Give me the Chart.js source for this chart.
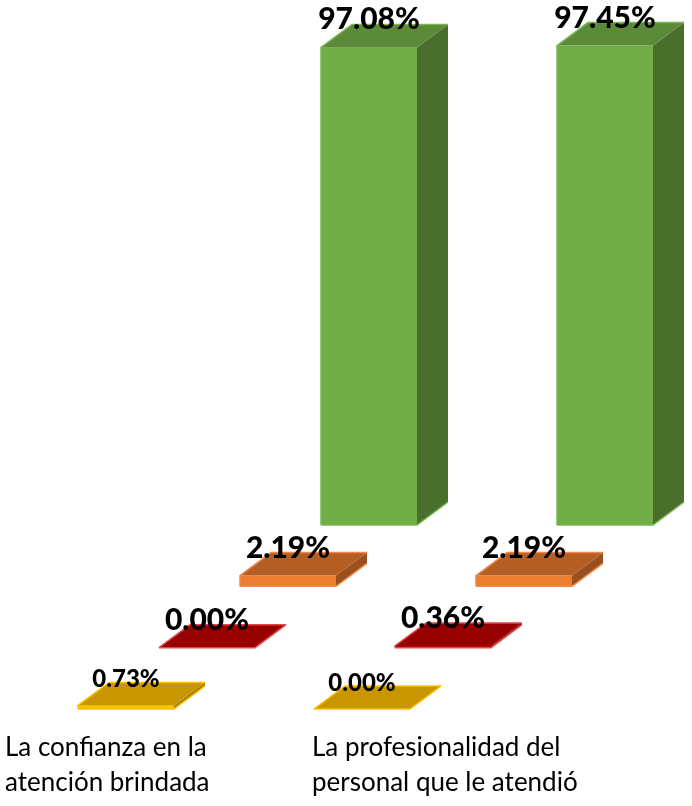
<!DOCTYPE html>
<html><head><meta charset="utf-8">
<script src="https://cdn.jsdelivr.net/npm/chart.js@4.4.1/dist/chart.umd.min.js"></script>
<style>html,body{margin:0;padding:0;background:#fff}#wrap{width:692px;height:806px;position:relative}</style>
</head><body><div id="wrap"><canvas id="c"></canvas></div>
<script>
// ---- data ----
const categories = [["La confianza en la","atención brindada"],["La profesionalidad del","personal que le atendió"]];
const seriesNames = ["Serie 1","Serie 2","Serie 3","Serie 4"];
const serie1 = [0.73, 0.00];   // amarillo (fila delantera)
const serie2 = [0.00, 0.36];   // rojo
const serie3 = [2.19, 2.19];   // naranja
const serie4 = [97.08, 97.45]; // verde (fila trasera)

// ---- styles ----
const DEPTH_X = 81, DEPTH_Y = 61.33, FACE_DX = 31, FACE_DY = 23;
const palettes = [
  {front:'#FFC000', top:'#C89600', side:'#A97F00', edge:'#FFC000', font:24},
  {front:'#C00000', top:'#960000', side:'#7A0000', edge:'#E04848', font:30},
  {front:'#ED7D31', top:'#B45E24', side:'#9A501E', edge:'#F0884A', font:30},
  {front:'#70AD47', top:'#5B8A39', side:'#4A6F2C', edge:'#79B552', font:30}
];
const LABEL_LEFT_SHIFT = [-121, -50];

function poly(ctx, pts){ctx.beginPath();ctx.moveTo(pts[0][0],pts[0][1]);for(let k=1;k<pts.length;k++)ctx.lineTo(pts[k][0],pts[k][1]);ctx.closePath();ctx.fill();}

const box3d = {
  id:'box3d',
  afterDatasetsDraw(chart){
    const ctx = chart.ctx;
    ctx.save();
    const n = chart.data.datasets.length;
    const labels = [];
    for (let d = n-1; d >= 0; d--) {
      const meta = chart.getDatasetMeta(d);
      const ox = d*DEPTH_X, oy = -d*DEPTH_Y;
      const pal = palettes[d];
      meta.data.forEach((bar,i)=>{
        const p = bar.getProps(['x','y','base','width'], true);
        const L = p.x - p.width/2 + ox, R = p.x + p.width/2 + ox, T = p.y + oy, B = p.base + oy;
        ctx.fillStyle = pal.side;
        poly(ctx, [[R,T],[R+FACE_DX,T-FACE_DY],[R+FACE_DX,B-FACE_DY],[R,B]]);
        ctx.fillStyle = pal.front;
        ctx.fillRect(L, T, R-L, B-T);
        ctx.fillStyle = pal.top;
        poly(ctx, [[L,T],[R,T],[R+FACE_DX,T-FACE_DY],[L+FACE_DX,T-FACE_DY]]);
        ctx.strokeStyle = pal.edge; ctx.lineWidth = 1.5;
        ctx.beginPath(); ctx.moveTo(L,B); ctx.lineTo(R,B); ctx.lineTo(R+FACE_DX,B-FACE_DY); ctx.stroke();
        ctx.beginPath(); ctx.moveTo(L,B); ctx.lineTo(L,T); ctx.lineTo(L+FACE_DX,T-FACE_DY); ctx.lineTo(R+FACE_DX,T-FACE_DY); ctx.stroke();
        labels.push({x:(L+R)/2, y:T-FACE_DY+5, text:chart.data.datasets[d].data[i].toFixed(2)+'%', size:pal.font});
      });
    }
    ctx.fillStyle = '#000';
    ctx.textAlign = 'center';
    ctx.textBaseline = 'alphabetic';
    labels.forEach(l=>{
      ctx.font = '900 '+l.size+'px Lato';
      ctx.fillText(l.text, l.x, l.y);
    });
    // category labels
    const xs = chart.scales.x;
    ctx.textAlign = 'left';
    ctx.font = '26px Lato';
    chart.data.labels.forEach((lab,i)=>{
      const x0 = xs.getPixelForValue(i) + LABEL_LEFT_SHIFT[i];
      lab.forEach((line,j)=> ctx.fillText(line, x0, 756 + j*35));
    });
    ctx.restore();
  }
};

new Chart(document.getElementById('c'), {
  type:'bar',
  data:{
    labels: categories,
    datasets:[serie1,serie2,serie3,serie4].map((v,k)=>({label:seriesNames[k], data:v, backgroundColor:'rgba(0,0,0,0)', borderWidth:0}))
  },
  options:{
    responsive:true, maintainAspectRatio:false, animation:false,
    layout:{padding:{left:8,right:212,top:217,bottom:97}},
    datasets:{bar:{grouped:false, barThickness:96}},
    scales:{
      x:{display:false, offset:true},
      y:{display:false, min:0, max:100}
    },
    plugins:{legend:{display:false}, tooltip:{enabled:false}}
  },
  plugins:[box3d]
});
</script></body></html>
